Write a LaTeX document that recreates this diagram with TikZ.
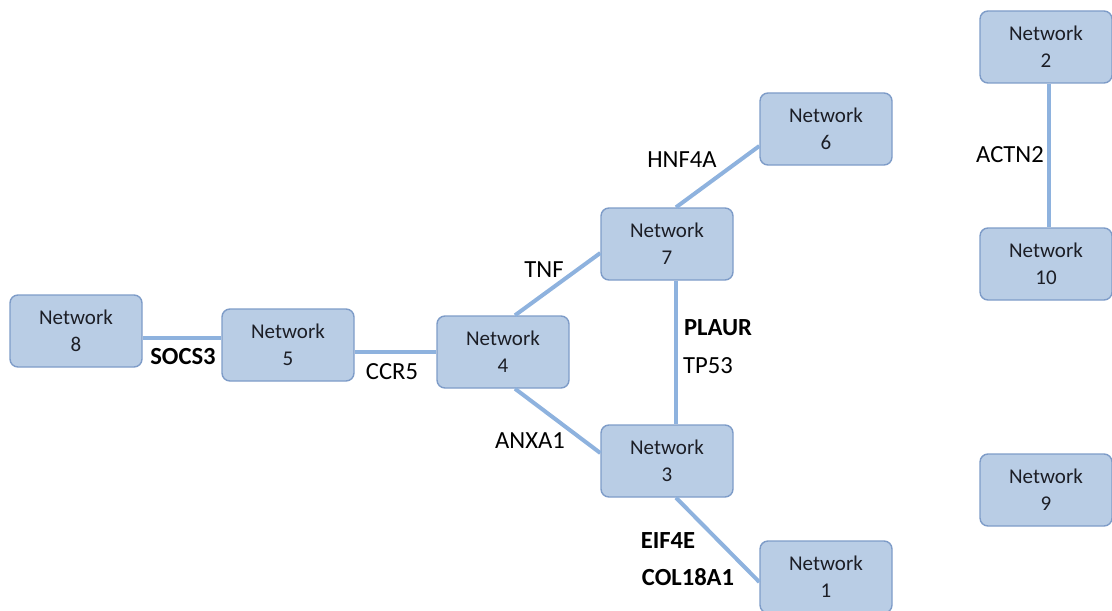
\documentclass[tikz,border=0pt]{standalone}
\usepackage{fontspec}
\setmainfont{Carlito}
\usepackage{tikz}
\usetikzlibrary{positioning}
\definecolor{nwFill}{RGB}{185,205,229}
\definecolor{nwLine}{RGB}{126,156,200}
\definecolor{nwLink}{RGB}{142,178,222}
\definecolor{nwText}{RGB}{28,30,38}

\begin{document}
\begin{tikzpicture}[
  x=0.5pt, y=-0.5pt,
  net/.style={draw=nwLine, line width=0.7pt, fill=nwFill, rounded corners=4pt,
    minimum width=66pt, minimum height=36pt, align=center, text=nwText,
    font=\fontsize{10.5}{13.5}\selectfont, execute at begin node=\vspace*{2pt}},
  gene/.style={inner sep=0pt, text=black, font=\fontsize{12.3}{14}\selectfont},
  hit/.style={gene, font=\fontsize{12.3}{14}\selectfont\bfseries},
  link/.style={draw=nwLink, line width=2pt}
]
\useasboundingbox (0,0) rectangle (1112,610);

% networks
\node[net] (n8) at (76,331) {Network\\8};
\node[net] (n5) at (288,345) {Network\\5};
\node[net] (n4) at (503,352) {Network\\4};
\node[net] (n7) at (667,244) {Network\\7};
\node[net] (n6) at (826,129) {Network\\6};
\node[net] (n3) at (667,461) {Network\\3};
\node[net] (n1) at (826,577) {Network\\1};
\node[net] (n2) at (1046,47) {Network\\2};
\node[net] (n10) at (1046,264) {Network\\10};
\node[net] (n9) at (1046,490) {Network\\9};

% links
\draw[link] ([yshift=-3.5pt]n8.east) -- ([yshift=3.5pt]n5.west);
\draw[link] ([yshift=-3.5pt]n5.east) -- (n4.west);
\draw[link] ([xshift=6pt]n4.north) -- ([yshift=-4.5pt]n7.west);
\draw[link] ([xshift=6pt]n4.south) -- ([yshift=4pt]n3.west);
\draw[link] ([xshift=4.5pt]n7.north) -- ([yshift=-8.5pt]n6.west);
\draw[link] ([xshift=4.5pt]n7.south) -- ([xshift=4.5pt]n3.north);
\draw[link] ([xshift=4.5pt]n3.south) -- ([yshift=-2.5pt]n1.west);
\draw[link] ([xshift=1.5pt]n2.south) -- ([xshift=1.5pt]n10.north);

% gene labels
\node[hit] (socs) at (183,357) {SOCS3};
\node[gene] (ccr) at (392,372) {CCR5};
\node[gene] (tnf) at (544,270) {TNF};
\node[gene] (anxa) at (530,441) {ANXA1};
\node[gene] (hnf) at (682,160) {HNF4A};
\node[hit] (plaur) at (718,328) {PLAUR};
\node[gene] (tp) at (708,366) {TP53};
\node[hit] (eif) at (668,541) {EIF4E};
\node[hit] (col) at (688,577) {COL18A1};
\node[gene] (actn) at (1010,155) {ACTN2};
\end{tikzpicture}
\end{document}
